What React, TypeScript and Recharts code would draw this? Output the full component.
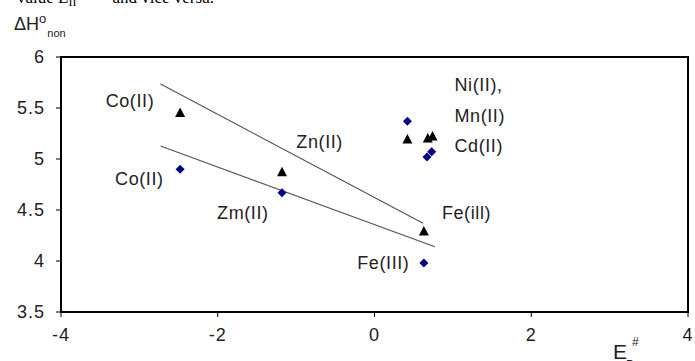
import React from "react";
import { ScatterChart, Scatter, XAxis, YAxis, ReferenceArea } from "recharts";

const xTicks = [-4, -2, 0, 2, 4];
const yTicks = [3.5, 4, 4.5, 5, 5.5, 6];

// black triangles
const triangles = [
  { x: -2.48, y: 5.45 },
  { x: -1.18, y: 4.87 },
  { x: 0.42, y: 5.19 },
  { x: 0.68, y: 5.2 },
  { x: 0.74, y: 5.22 },
  { x: 0.63, y: 4.29 },
];

// navy diamonds
const diamonds = [
  { x: -2.48, y: 4.9 },
  { x: -1.18, y: 4.67 },
  { x: 0.42, y: 5.37 },
  { x: 0.67, y: 5.02 },
  { x: 0.73, y: 5.07 },
  { x: 0.63, y: 3.98 },
];

const upperLine = [
  { x: -2.73, y: 5.735 },
  { x: 0.62, y: 4.37 },
];

const lowerLine = [
  { x: -2.73, y: 5.127 },
  { x: 0.77, y: 4.14 },
];

const labels = [
  { x: -3.12, y: 5.57, text: "Co(II)", anchor: "middle" },
  { x: -0.7, y: 5.17, text: "Zn(II)", anchor: "middle" },
  { x: -3.0, y: 4.81, text: "Co(II)", anchor: "middle" },
  { x: -1.68, y: 4.47, text: "Zm(II)", anchor: "middle" },
  { x: 1.02, y: 5.73, text: "Ni(II),", anchor: "start" },
  { x: 1.02, y: 5.42, text: "Mn(II)", anchor: "start" },
  { x: 1.02, y: 5.13, text: "Cd(II)", anchor: "start" },
  { x: 0.86, y: 4.47, text: "Fe(ill)", anchor: "start" },
  { x: -0.22, y: 3.98, text: "Fe(III)", anchor: "start" },
];

const FONT = "'Liberation Sans', Arial, sans-serif";

const Triangle = (props: any) => {
  const { cx, cy } = props;
  return (
    <polygon
      points={`${cx},${cy - 5.5} ${cx + 5},${cy + 4} ${cx - 5},${cy + 4}`}
      fill="#000"
    />
  );
};

const Diamond = (props: any) => {
  const { cx, cy } = props;
  return (
    <polygon
      points={`${cx},${cy - 4.5} ${cx + 4.5},${cy} ${cx},${cy + 4.5} ${cx - 4.5},${cy}`}
      fill="#00008b"
    />
  );
};

const LabelShape = (props: any) => {
  const { cx, cy, payload } = props;
  return (
    <text
      x={cx}
      y={cy}
      dy="0.35em"
      textAnchor={payload.anchor}
      fontFamily={FONT}
      fontSize={18}
      letterSpacing={0.6}
      fill="#222"
    >
      {payload.text}
    </text>
  );
};

export default function App() {
  return (
    <div
      style={{
        position: "absolute",
        left: 0,
        top: 0,
        width: 695,
        height: 361,
        background: "#fff",
        overflow: "hidden",
      }}
    >
      <ScatterChart
        width={695}
        height={361}
        margin={{ top: 57, right: 7, bottom: 19, left: 11 }}
      >
        <XAxis
          type="number"
          dataKey="x"
          domain={[-4, 4]}
          ticks={xTicks}
          allowDataOverflow
          height={30}
          tickSize={5}
          tickMargin={11}
          axisLine={{ stroke: "#000", strokeWidth: 2 }}
          tickLine={{ stroke: "#000" }}
          tick={{ fill: "#222", fontSize: 18, fontFamily: FONT, letterSpacing: 1 }}
        />
        <YAxis
          type="number"
          dataKey="y"
          domain={[3.5, 6]}
          ticks={yTicks}
          allowDataOverflow
          width={50}
          tickSize={5}
          tickMargin={11}
          axisLine={{ stroke: "#000", strokeWidth: 2 }}
          tickLine={{ stroke: "#000" }}
          tick={{ fill: "#222", fontSize: 18, fontFamily: FONT, letterSpacing: 1 }}
        />
        <ReferenceArea
          x1={-4}
          x2={4}
          y1={3.5}
          y2={6}
          fill="none"
          stroke="#000"
          strokeWidth={2}
        />
        <Scatter
          data={upperLine}
          line={{ stroke: "#555", strokeWidth: 1.2 }}
          shape={() => <g />}
          isAnimationActive={false}
        />
        <Scatter
          data={lowerLine}
          line={{ stroke: "#555", strokeWidth: 1.2 }}
          shape={() => <g />}
          isAnimationActive={false}
        />
        <Scatter data={triangles} shape={Triangle} isAnimationActive={false} />
        <Scatter data={diamonds} shape={Diamond} isAnimationActive={false} />
        <Scatter data={labels} shape={LabelShape} isAnimationActive={false} />
      </ScatterChart>
      <svg
        width={695}
        height={361}
        style={{ position: "absolute", left: 0, top: 0, pointerEvents: "none" }}
      >
        <text x={17} y={3} fontFamily="'Liberation Serif', 'Times New Roman', serif" fontSize={17} fill="#000">
          value E
          <tspan fontSize={12} dy={3}>II</tspan>
          <tspan dy={-3} dx={36}>and vice versa.</tspan>
        </text>
        <text x={14} y={30} fontFamily={FONT} fontSize={18} fill="#222">
          ΔH
          <tspan fontSize={13} dy={-7}>o</tspan>
          <tspan fontSize={11} dy={14} dx={1}>non</tspan>
        </text>
        <text x={613} y={359} fontFamily={FONT} fontSize={21} fill="#222">E</text>
        <text x={626} y={369} fontFamily={FONT} fontSize={12} fill="#222">D</text>
        <text x={632} y={346} fontFamily={FONT} fontSize={12} fill="#222">#</text>
      </svg>
    </div>
  );
}
